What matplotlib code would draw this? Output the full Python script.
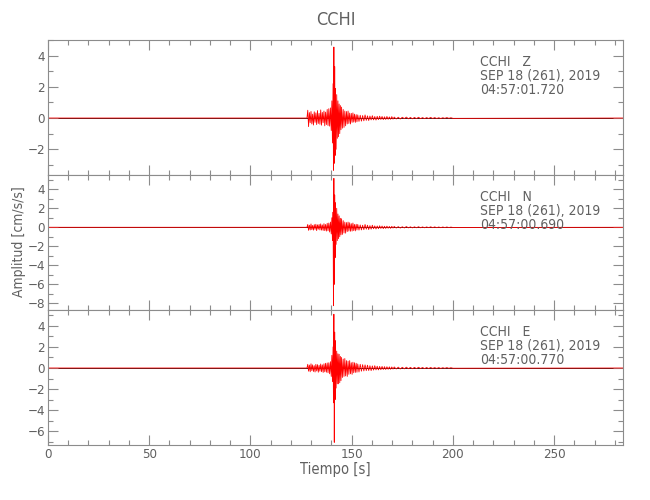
import matplotlib
matplotlib.use("Agg")
import matplotlib.pyplot as plt
from matplotlib.ticker import MultipleLocator

# ---------------- data ----------------
station = "CCHI"
components = ["Z", "N", "E"]
date_text = "SEP 18 (261), 2019"
start_times = ["04:57:01.720", "04:57:00.690", "04:57:00.770"]

# times of successive peaks of the records [s]
time_s = ([0, 127.9]
          + [128.3, 128.7, 129.1, 129.5, 129.9, 130.3, 130.7, 131.1, 131.5, 131.9,
             132.3, 132.7, 133.1, 133.5, 133.9, 134.3, 134.7, 135.1, 135.5, 135.9,
             136.3, 136.7, 137.1, 137.5, 137.9, 138.3, 138.7, 139.1, 139.5]
          + [139.9, 140.2, 140.5, 140.8, 141.0, 141.2, 141.4, 141.6, 141.8, 142.0,
             142.3, 142.6, 142.9, 143.2, 143.5, 143.8, 144.1, 144.4, 144.7, 145.0]
          + [145.4, 145.8, 146.2, 146.6, 147.0, 147.4, 147.8, 148.2, 148.6, 149.0,
             149.4, 149.8, 150.2, 150.6, 151.0, 151.4, 151.8, 152.2, 152.6, 153.0]
          + [153.6, 154.2, 154.8, 155.4, 156.0, 156.6, 157.2, 157.8, 158.4, 159.0,
             159.6, 160.2, 160.8, 161.4, 162.0, 162.6, 163.2, 163.8, 164.4, 165.0,
             165.6, 166.2, 166.8, 167.4, 168.0, 168.6, 169.2, 169.8, 170.4, 171.0]
          + [172, 173, 174, 175, 176, 177, 178, 179, 180, 181, 182, 183, 184, 185,
             186, 187, 188, 189, 190, 191, 192, 193, 194, 195, 196, 197, 198, 199, 200]
          + [284])

# peak amplitudes [cm/s/s]
amp_z = ([0, 0]
         + [0.50, -0.55, 0.35, -0.30, 0.42, -0.38, 0.25, -0.45, 0.40, -0.28, 0.33,
            -0.42, 0.48, -0.35, 0.30, -0.40, 0.52, -0.46, 0.36, -0.30, 0.45, -0.50,
            0.38, -0.42, 0.55, -0.48, 0.60, -0.52, 0.65]
         + [-0.8, 1.1, -1.6, 2.2, -3.35, 4.55, -2.9, 3.3, -2.4, 1.9, -2.0, 1.5, -1.3,
            1.1, -1.2, 0.9, -1.0, 0.8, -0.75, 0.7]
         + [-0.65, 0.55, -0.6, 0.45, -0.5, 0.42, -0.38, 0.45, -0.35, 0.32, -0.38, 0.3,
            -0.28, 0.33, -0.26, 0.25, -0.28, 0.22, -0.24, 0.2]
         + [-0.22, 0.18, -0.2, 0.16, -0.18, 0.2, -0.15, 0.14, -0.16, 0.13, -0.12, 0.15,
            -0.12, 0.1, -0.13, 0.11, -0.1, 0.12, -0.09, 0.1, -0.1, 0.08, -0.09, 0.1,
            -0.08, 0.07, -0.08, 0.09, -0.07, 0.06]
         + [-0.06, 0.05, -0.06, 0.05, -0.04, 0.06, -0.05, 0.04, -0.05, 0.04, -0.04,
            0.05, -0.04, 0.03, -0.04, 0.03, -0.03, 0.04, -0.03, 0.03, -0.03, 0.02,
            -0.03, 0.02, -0.02, 0.03, -0.02, 0.02, -0.02]
         + [0])
amp_n = ([0, 0]
         + [0.30, -0.32, 0.22, -0.28, 0.35, -0.25, 0.20, -0.30, 0.28, -0.22, 0.32,
            -0.35, 0.26, -0.20, 0.30, -0.28, 0.36, -0.30, 0.25, -0.33, 0.38, -0.35,
            0.30, -0.40, 0.42, -0.36, 0.45, -0.50, 0.55]
         + [-0.7, 1.0, -1.4, 1.6, -8.25, 5.15, -6.0, 3.4, -3.2, 2.6, -1.8, 2.0, -1.4,
            1.4, -1.2, 1.2, -1.0, 0.95, -0.8, 0.9]
         + [-0.75, 0.7, -0.6, 0.55, -0.62, 0.5, -0.45, 0.55, -0.4, 0.48, -0.42, 0.38,
            -0.4, 0.45, -0.35, 0.3, -0.38, 0.32, -0.28, 0.3]
         + [-0.3, 0.25, -0.28, 0.22, -0.25, 0.3, -0.2, 0.22, -0.24, 0.18, -0.2, 0.22,
            -0.16, 0.15, -0.18, 0.14, -0.15, 0.16, -0.12, 0.13, -0.14, 0.11, -0.12,
            0.12, -0.1, 0.09, -0.11, 0.1, -0.08, 0.09]
         + [-0.08, 0.07, -0.08, 0.06, -0.07, 0.08, -0.06, 0.05, -0.06, 0.05, -0.05,
            0.06, -0.05, 0.04, -0.05, 0.04, -0.04, 0.05, -0.04, 0.04, -0.04, 0.03,
            -0.04, 0.03, -0.03, 0.03, -0.03, 0.02, -0.02]
         + [0])
amp_e = ([0, 0]
         + [0.35, -0.30, 0.28, -0.36, 0.40, -0.25, 0.30, -0.33, 0.22, -0.38, 0.35,
            -0.28, 0.32, -0.40, 0.26, -0.30, 0.38, -0.35, 0.30, -0.42, 0.40, -0.36,
            0.45, -0.40, 0.48, -0.45, 0.50, -0.55, 0.60]
         + [-0.8, 1.2, -1.3, 2.0, -3.3, 5.1, -7.05, 3.4, -3.0, 2.6, -1.9, 1.6, -1.5,
            1.35, -1.5, 1.3, -1.4, 1.1, -1.2, 1.0]
         + [-0.9, 0.85, -0.8, 0.9, -0.75, 0.7, -0.8, 0.65, -0.6, 0.7, -0.55, 0.5,
            -0.6, 0.55, -0.45, 0.5, -0.42, 0.45, -0.4, 0.38]
         + [-0.38, 0.35, -0.3, 0.32, -0.28, 0.3, -0.25, 0.27, -0.24, 0.22, -0.25, 0.2,
            -0.2, 0.22, -0.18, 0.17, -0.18, 0.15, -0.16, 0.15, -0.14, 0.13, -0.14,
            0.12, -0.12, 0.11, -0.12, 0.1, -0.1, 0.1]
         + [-0.09, 0.08, -0.09, 0.07, -0.08, 0.08, -0.07, 0.06, -0.07, 0.06, -0.06,
            0.07, -0.05, 0.05, -0.06, 0.05, -0.05, 0.05, -0.04, 0.04, -0.04, 0.04,
            -0.04, 0.03, -0.03, 0.04, -0.03, 0.03, -0.02]
         + [0])
amplitudes = [amp_z, amp_n, amp_e]

y_limits = [(-3.65, 5.0), (-8.7, 5.5), (-7.3, 5.5)]
x_limits = (0, 284)

# ---------------- style ----------------
TXT = "#606060"
SPINE = "#8c8c8c"
plt.rcParams["font.family"] = ["DejaVu Sans"]
plt.rcParams["font.stretch"] = "condensed"

fig = plt.figure(figsize=(6.5, 5.0), dpi=100)
left, width = 48 / 650, 575 / 650
panel_h = 135 / 500
bottoms = [1 - 175 / 500, 1 - 310 / 500, 1 - 445 / 500]

axes = []
for i in range(3):
    ax = fig.add_axes([left, bottoms[i], width, panel_h])
    axes.append(ax)
    ax.axhline(0, color="black", lw=0.6, zorder=1)
    ax.plot(time_s, amplitudes[i], color="#ff0000", lw=0.6, zorder=2)
    ax.set_xlim(*x_limits)
    ax.set_ylim(*y_limits[i])
    ax.xaxis.set_major_locator(MultipleLocator(50))
    ax.xaxis.set_minor_locator(MultipleLocator(10))
    ax.yaxis.set_major_locator(MultipleLocator(2))
    ax.yaxis.set_minor_locator(MultipleLocator(1))
    ax.tick_params(which="both", direction="in", top=True, right=True,
                   colors=SPINE, labelcolor=TXT, labelsize=9.5, width=0.8, pad=2)
    ax.tick_params(which="major", length=7)
    ax.tick_params(which="minor", length=3.5)
    for s in ax.spines.values():
        s.set_color(SPINE)
        s.set_linewidth(0.8)
    if i < 2:
        ax.tick_params(labelbottom=False)
    lines = [f"{station}   {components[i]}", date_text, start_times[i]]
    for txt, yf in zip(lines, [0.839, 0.737, 0.63]):
        ax.text(0.751, yf, txt, transform=ax.transAxes, color=TXT,
                fontsize=10, ha="left", va="center")

axes[2].tick_params(axis="x", pad=2)
axes[2].set_xlabel("Tiempo [s]", color=TXT, fontsize=10.5, labelpad=1)
fig.text(19 / 650, 1 - 242 / 500, "Amplitud [cm/s/s]", rotation=90,
         ha="center", va="center", color=TXT, fontsize=10)
fig.text(335.5 / 650, 1 - 20 / 500, station, ha="center", va="center",
         color=TXT, fontsize=13)

fig.savefig("out.png", dpi=100)
